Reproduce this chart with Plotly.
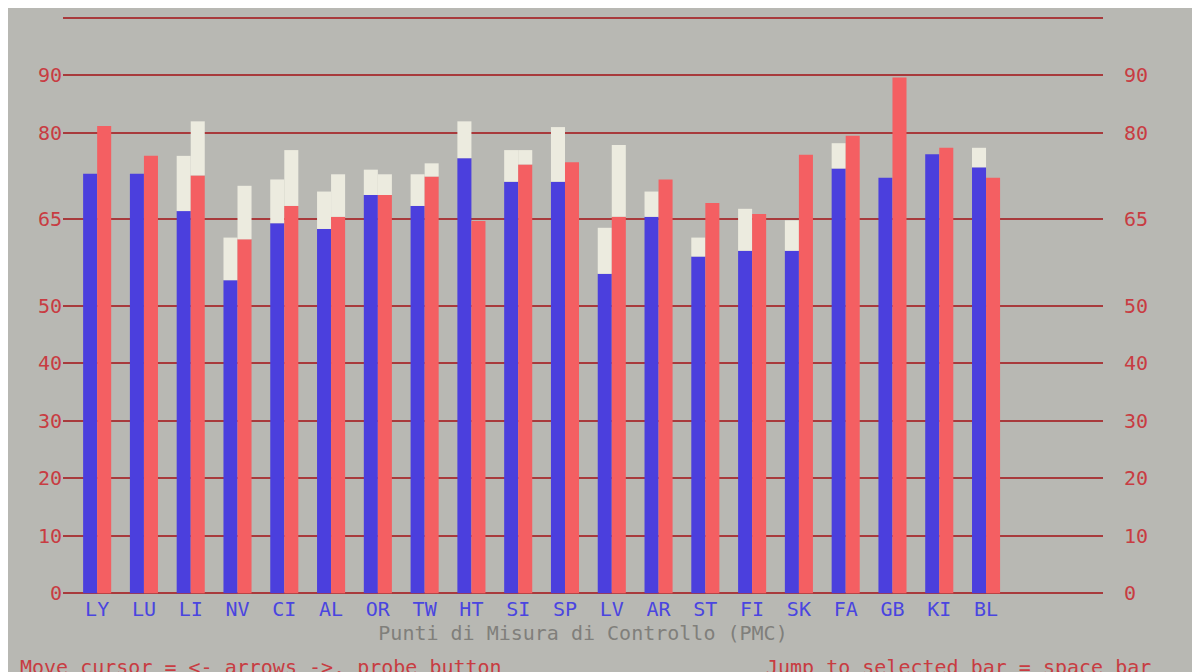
import plotly.graph_objects as go

# punti di misura
punti = ['LY', 'LU', 'LI', 'NV', 'CI', 'AL', 'OR', 'TW', 'HT', 'SI',
         'SP', 'LV', 'AR', 'ST', 'FI', 'SK', 'FA', 'GB', 'KI', 'BL']

# barre blu e loro estensione bianca (valore massimo)
blu = [72.9, 72.9, 66.4, 54.4, 64.3, 63.3, 69.2, 67.3, 75.6, 71.5,
       71.5, 55.5, 65.4, 58.5, 59.5, 59.5, 73.8, 72.2, 76.3, 74.0]
blu_max = [72.9, 72.9, 76.0, 61.8, 71.9, 69.8, 73.6, 72.8, 82.0, 77.0,
           81.0, 63.5, 69.8, 61.8, 66.8, 64.8, 78.2, 72.2, 76.3, 77.4]

# barre rosse e loro estensione bianca
rosso = [81.2, 76.0, 72.6, 61.5, 67.3, 65.4, 69.2, 72.4, 64.7, 74.5,
         74.9, 65.4, 71.9, 67.8, 65.9, 76.2, 79.5, 89.6, 77.4, 72.2]
rosso_max = [81.2, 76.0, 82.0, 70.8, 77.0, 72.8, 72.8, 74.7, 64.7, 77.0,
             74.9, 77.9, 71.9, 67.8, 65.9, 76.2, 79.5, 89.6, 77.4, 72.2]

tick_y = [0, 10, 20, 30, 40, 50, 65, 80, 90, 100]

BLU = '#4b3fdd'
ROSSO = '#f45f62'
BIANCO = '#ecebdf'
GRIGIO = '#b8b8b3'
LINEA = '#a83a3c'

x = list(range(len(punti)))
w = 0.3

fig = go.Figure()
fig.add_trace(go.Bar(x=x, y=blu, width=w, offset=-w, marker_color=BLU, marker_line_width=0))
fig.add_trace(go.Bar(x=x, y=[m - b for m, b in zip(blu_max, blu)], base=blu, width=w, offset=-w,
                     marker_color=BIANCO, marker_line_width=0))
fig.add_trace(go.Bar(x=x, y=rosso, width=w, offset=0, marker_color=ROSSO, marker_line_width=0))
fig.add_trace(go.Bar(x=x, y=[m - r for m, r in zip(rosso_max, rosso)], base=rosso, width=w, offset=0,
                     marker_color=BIANCO, marker_line_width=0))
# asse destro (solo etichette)
fig.add_trace(go.Scatter(x=[0], y=[0], yaxis='y2', mode='markers', marker_opacity=0,
                         showlegend=False, hoverinfo='skip'))

font_mono = 'DejaVu Sans Mono, Liberation Mono, monospace'
fig.update_layout(
    width=1200, height=672,
    barmode='overlay', showlegend=False,
    paper_bgcolor=GRIGIO, plot_bgcolor=GRIGIO,
    margin=dict(l=55, r=105, t=8, b=85),
    font=dict(family=font_mono),
    xaxis=dict(range=[-0.73, 21.5], tickvals=x, ticktext=punti, showgrid=False,
               zeroline=False, ticks='', tickfont=dict(color='#4a45e0', size=20),
               title=dict(text='Punti di Misura di Controllo (PMC)', standoff=4,
                          font=dict(color='#807f7b', size=20))),
    yaxis=dict(range=[-0.3, 100.3], tickvals=tick_y, gridcolor=LINEA, gridwidth=1.5,
               zeroline=False, ticks='', tickfont=dict(color='#c83c42', size=20)),
    yaxis2=dict(range=[-0.3, 100.3], tickvals=tick_y, overlaying='y', side='right',
                showgrid=False, zeroline=False, ticks='', ticklabelstandoff=20,
                tickfont=dict(color='#c83c42', size=20)),
)
# note in basso, posizionate in pixel rispetto all'area del grafico
fig.add_annotation(text='Move cursor = <- arrows ->, probe button',
                   x=-45 / 1040, y=-58 / 579, xref='paper', yref='paper',
                   xanchor='left', yanchor='top', showarrow=False,
                   font=dict(color='#c83c42', size=20))
fig.add_annotation(text='Jump to selected bar = space bar',
                   x=1090 / 1040, y=-58 / 579, xref='paper', yref='paper',
                   xanchor='right', yanchor='top', showarrow=False,
                   font=dict(color='#c83c42', size=20))

fig.write_html('out.html')
